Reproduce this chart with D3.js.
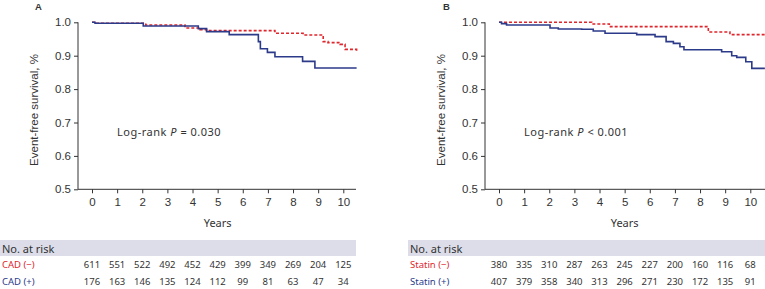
<!DOCTYPE html>
<html>
<head>
<meta charset="utf-8">
<title>Event-free survival</title>
<script src="https://cdn.jsdelivr.net/npm/d3@7"></script>
<style>
  body { margin: 0; background: #fff; }
  .tick text { font-family: "Liberation Sans", Arial, sans-serif; font-size: 11.5px; fill: #333; }
  .note { font-family: "Noto Sans", sans-serif; font-size: 11px; fill: #333; }
  .risk { font-family: "Noto Sans", sans-serif; font-size: 9.5px; fill: #333; }
</style>
</head>
<body>
<script>
// ticks
var yearTicks = [0,1,2,3,4,5,6,7,8,9,10];
var survTicks = [0.5,0.6,0.7,0.8,0.9,1.0];

// panel A, CAD (-) red dashed
var cadNegT = [0, 0.19, 2.14, 3.7, 4.3, 4.56, 7.28, 8.4, 9.2, 9.39, 9.87, 10.07, 10.53];
var cadNegS = [1.0, 0.997, 0.992, 0.983, 0.978, 0.975, 0.967, 0.962, 0.942, 0.939, 0.934, 0.919, 0.915];
// panel A, CAD (+) blue
var cadPosT = [0, 0.12, 2.04, 4.23, 4.56, 5.46, 6.62, 6.7, 6.98, 7.28, 8.38, 8.87, 10.53];
var cadPosS = [1.0, 0.997, 0.989, 0.981, 0.972, 0.963, 0.942, 0.921, 0.910, 0.897, 0.883, 0.863, 0.863];
// panel B, statin (-) red dashed
var stNegT = [0, 3.69, 4.39, 8.33, 9.19, 10.58];
var stNegS = [1.0, 0.995, 0.987, 0.971, 0.963, 0.963];
// panel B, statin (+) blue
var stPosT = [0, 0.1, 0.3, 2.03, 2.36, 3.29, 3.75, 4.22, 5.48, 6.21, 6.65, 6.94, 7.2, 7.36, 8.86, 9.26, 9.46, 9.82, 10.06, 10.58];
var stPosS = [1.0, 0.996, 0.992, 0.983, 0.98, 0.979, 0.974, 0.967, 0.963, 0.957, 0.942, 0.937, 0.927, 0.918, 0.912, 0.9, 0.895, 0.882, 0.862, 0.862];

// numbers at risk
var riskCadNeg = [611,551,522,492,452,429,399,349,269,204,125];
var riskCadPos = [176,163,146,135,124,112,99,81,63,47,34];
var riskStNeg = [380,335,310,287,263,245,227,200,160,116,68];
var riskStPos = [407,379,358,340,313,296,271,230,172,135,91];

var red = "#e0262c", blue = "#2c3a8a", ink = "#333";

var svg = d3.select("body").append("svg")
    .attr("width", 765).attr("height", 289);

function panel(o) {
  var x = d3.scaleLinear().domain([0, 10]).range([o.x0, o.x0 + 251.3]);
  var y = d3.scaleLinear().domain([0.5, 1.0]).range([189.3, 22.3]);
  var g = svg.append("g");

  var yAxis = g.append("g").attr("transform", "translate(" + o.ax + ",0)")
      .call(d3.axisLeft(y).tickValues(survTicks).tickFormat(d3.format(".1f")).tickSize(4).tickPadding(3));
  yAxis.select(".domain").attr("d", "M0," + y(1.0) + "V" + y(0.5)).attr("stroke", ink);
  yAxis.selectAll(".tick line").attr("stroke", ink);

  var xAxis = g.append("g").attr("transform", "translate(0," + y(0.5) + ")")
      .call(d3.axisBottom(x).tickValues(yearTicks).tickSize(4).tickPadding(5));
  xAxis.select(".domain").attr("d", "M" + o.ax + ",0H" + o.axEnd).attr("stroke", ink);
  xAxis.selectAll(".tick line").attr("stroke", ink);

  g.append("text").attr("x", o.letterX).attr("y", 10)
    .attr("font-family", "Liberation Sans, Arial, sans-serif").attr("font-weight", "bold")
    .attr("font-size", 9.5).attr("fill", ink).text(o.letter);

  g.append("text").attr("transform", "translate(" + o.titleX + ",110) rotate(-90)")
    .attr("text-anchor", "middle").attr("font-family", "Liberation Sans, Arial, sans-serif")
    .attr("font-size", 11.5).attr("fill", ink).text("Event-free survival, %");

  g.append("text").attr("x", (x(0) + x(10)) / 2).attr("y", 227).attr("text-anchor", "middle")
    .attr("class", "note").text("Years");

  var p = g.append("text").attr("x", o.pX).attr("y", 135.5).attr("class", "note")
    .attr("letter-spacing", 0.5);
  p.append("tspan").text("Log-rank ");
  p.append("tspan").attr("font-style", "italic").text("P");
  p.append("tspan").text(o.pText);

  var line = d3.line().x(function(d) { return x(d[0]); }).y(function(d) { return y(d[1]); })
      .curve(d3.curveStepAfter);
  o.curves.forEach(function(c) {
    var pts = c.t.map(function(t, i) { return [t, c.s[i]]; });
    var last = pts[pts.length - 1];
    if (last[1] !== pts[pts.length - 2][1]) pts.push([last[0] + 0.0001, last[1]]);
    g.append("path").datum(pts).attr("d", line).attr("fill", "none")
      .attr("stroke", c.color).attr("stroke-width", 1.6)
      .attr("stroke-dasharray", c.dash ? "3,2" : null);
  });

  // risk table
  g.append("rect").attr("x", o.bandX).attr("y", 240).attr("width", o.bandEnd - o.bandX).attr("height", 16)
    .attr("fill", "#dcdde9");
  g.append("text").attr("x", o.bandX + 2).attr("y", 252.5).attr("class", "note").attr("font-size", 10.5)
    .text("No. at risk");
  o.rows.forEach(function(r, ri) {
    var yy = 268 + ri * 16.7;
    g.append("text").attr("x", o.bandX + 2).attr("y", yy).attr("class", "risk")
      .style("fill", r.color).text(r.label);
    g.selectAll(null).data(r.n).enter().append("text")
      .attr("class", "risk").attr("text-anchor", "middle")
      .attr("x", function(d, i) { return x(yearTicks[i]); }).attr("y", yy)
      .text(function(d) { return d; });
  });
}

panel({
  x0: 92, ax: 78, axEnd: 356, letter: "A", letterX: 35, titleX: 38, pX: 117, pText: " = 0.030",
  bandX: 0, bandEnd: 356,
  curves: [
    { t: cadNegT, s: cadNegS, color: red, dash: true },
    { t: cadPosT, s: cadPosS, color: blue, dash: false }
  ],
  rows: [
    { label: "CAD (\u2212)", color: red, n: riskCadNeg },
    { label: "CAD (+)", color: blue, n: riskCadPos }
  ]
});

panel({
  x0: 499, ax: 485, axEnd: 765, letter: "B", letterX: 443, titleX: 445, pX: 524, pText: " < 0.001",
  bandX: 408, bandEnd: 765,
  curves: [
    { t: stNegT, s: stNegS, color: red, dash: true },
    { t: stPosT, s: stPosS, color: blue, dash: false }
  ],
  rows: [
    { label: "Statin (\u2212)", color: red, n: riskStNeg },
    { label: "Statin (+)", color: blue, n: riskStPos }
  ]
});
</script>
</body>
</html>
